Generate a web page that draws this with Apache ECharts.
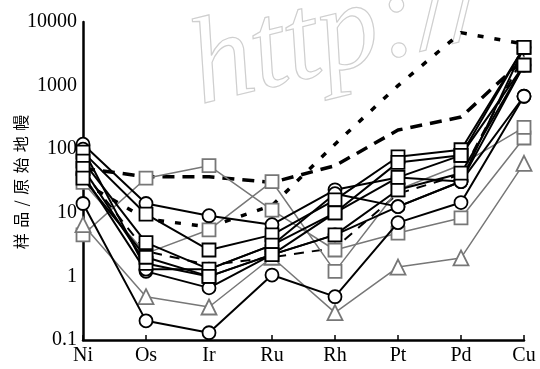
<!DOCTYPE html>
<html>
<head>
<meta charset="utf-8">
<script src="https://cdn.jsdelivr.net/npm/echarts@6/dist/echarts.min.js"></script>
<style>
  html, body { margin: 0; padding: 0; background: #fff; }
  #chart { width: 540px; height: 369px; }
</style>
</head>
<body>
<div id="chart"></div>
<script>
// 元素（横轴）
var elements = ['Ni', 'Os', 'Ir', 'Ru', 'Rh', 'Pt', 'Pd', 'Cu'];
var yTicks = [0.1, 1, 10, 100, 1000, 10000];
var yTitle = '样\u2004品\u2004/\u2004原\u2004始\u2004地\u2004幔';

// 实线样品（黑色）
var b1 = [120, 14, 9, 6.5, 23, 36, 31, 4000];
var b2 = [90, 9.5, 2.6, 4.5, 16, 76, 98, 4000];
var b3 = [65, 3.4, 1.3, 3.1, 10, 62, 80, 2100];
var b4 = [40, 1.2, 0.66, 2.2, 4.5, 12.5, 31, 2100];
var b5 = [14, 0.2, 0.13, 1.05, 0.48, 7, 14.5, 680];
var b6 = [50, 1.6, 1.0, 2.2, 4.5, 23, 42, 2100];
var b7 = [100, 1.3, 1.3, 3.1, 20, 12.5, 31, 680];
var b8 = [35, 2.0, 1.0, 2.2, 10, 36, 80, 4000];
// 灰色样品
var g1 = [4.5, 35, 55, 11, 2.6, 4.8, 8.3, 150];
var g2 = [6.5, 0.48, 0.33, 2.0, 0.27, 1.4, 1.95, 60];
var g3 = [30, 2.3, 5.4, 31, 1.2, 23, 57, 220];
// 虚线
var d1 = [50, 37, 37, 30, 55, 200, 320, 2600];
var d2 = [30, 8, 6, 13, 120, 1000, 6800, 4500];
var d3 = [45, 2.5, 1.5, 2.0, 2.8, 20, 40, 3000];

var chart = echarts.init(document.getElementById('chart'));

var serifFont = '"Liberation Serif", "DejaVu Serif", serif';

function solid(data, symbol) {
  return {
    type: 'line', data: data, symbol: symbol, symbolSize: 13,
    lineStyle: { color: '#000', width: 2 },
    itemStyle: { color: '#fff', borderColor: '#000', borderWidth: 1.8 },
    z: 3
  };
}
function gray(data, symbol) {
  return {
    type: 'line', data: data, symbol: symbol, symbolSize: symbol === 'triangle' ? 15 : 13,
    lineStyle: { color: '#777', width: 1.5 },
    itemStyle: { color: '#fff', borderColor: '#777', borderWidth: 1.8 },
    z: 2
  };
}
function dashed(data, dash, width) {
  return {
    type: 'line', data: data, symbol: 'none',
    lineStyle: { color: '#000', width: width, type: dash },
    z: 2
  };
}

// 对数次刻度
var minorTicks = [];
for (var e = -1; e < 4; e++) {
  for (var k = 2; k <= 9; k++) minorTicks.push(k * Math.pow(10, e));
}

option = {
  backgroundColor: '#fff',
  animation: false,
  grid: { left: 83, right: 16, top: 22, bottom: 29, outerBoundsMode: 'none', containLabel: false },
  graphic: [{
    type: 'text',
    left: 178, top: -58,
    rotation: 0.24,
    style: {
      text: 'http://',
      font: 'italic 122px "Liberation Serif", serif',
      fill: 'rgba(0,0,0,0)',
      stroke: '#cfcfcf',
      lineWidth: 1.2
    },
    z: 0
  }, {
    type: 'text',
    x: 21, y: 182,
    rotation: Math.PI / 2,
    style: {
      text: yTitle,
      font: '16px "Noto Sans CJK SC"',
      fill: '#000',
      align: 'center',
      verticalAlign: 'middle'
    }
  }],
  xAxis: {
    type: 'category',
    data: elements,
    boundaryGap: false,
    axisLine: { lineStyle: { color: '#000', width: 2.5 } },
    axisTick: { inside: true, length: 5, lineStyle: { color: '#000', width: 1.5 } },
    axisLabel: { color: '#000', fontFamily: serifFont, fontSize: 20, margin: 6 }
  },
  yAxis: [{
    type: 'log',
    logBase: 10,
    min: 0.1,
    max: 10000,
    axisLine: { show: true, lineStyle: { color: '#000', width: 2.5 } },
    axisTick: { inside: true, length: 6, customValues: yTicks, lineStyle: { color: '#000', width: 1.5 } },
    axisLabel: {
      color: '#000', fontFamily: serifFont, fontSize: 20, margin: 6,
      customValues: yTicks,
      formatter: function (v) { return String(v); }
    },
    splitLine: { show: false }
  }, {
    type: 'log',
    logBase: 10,
    min: 0.1,
    max: 10000,
    position: 'left',
    axisLine: { show: false },
    axisTick: { inside: true, length: 3, customValues: minorTicks, lineStyle: { color: '#000', width: 1.2 } },
    axisLabel: { show: false },
    splitLine: { show: false }
  }],
  series: [
    dashed(d1, [12, 8], 3.5),
    dashed(d2, [6, 11], 3.5),
    dashed(d3, [10, 8], 2),
    gray(g1, 'rect'),
    gray(g2, 'triangle'),
    gray(g3, 'rect'),
    solid(b1, 'circle'),
    solid(b4, 'circle'),
    solid(b5, 'circle'),
    solid(b7, 'circle'),
    solid(b2, 'rect'),
    solid(b3, 'rect'),
    solid(b6, 'rect'),
    solid(b8, 'rect')
  ]
};
chart.setOption(option);
</script>
</body>
</html>
